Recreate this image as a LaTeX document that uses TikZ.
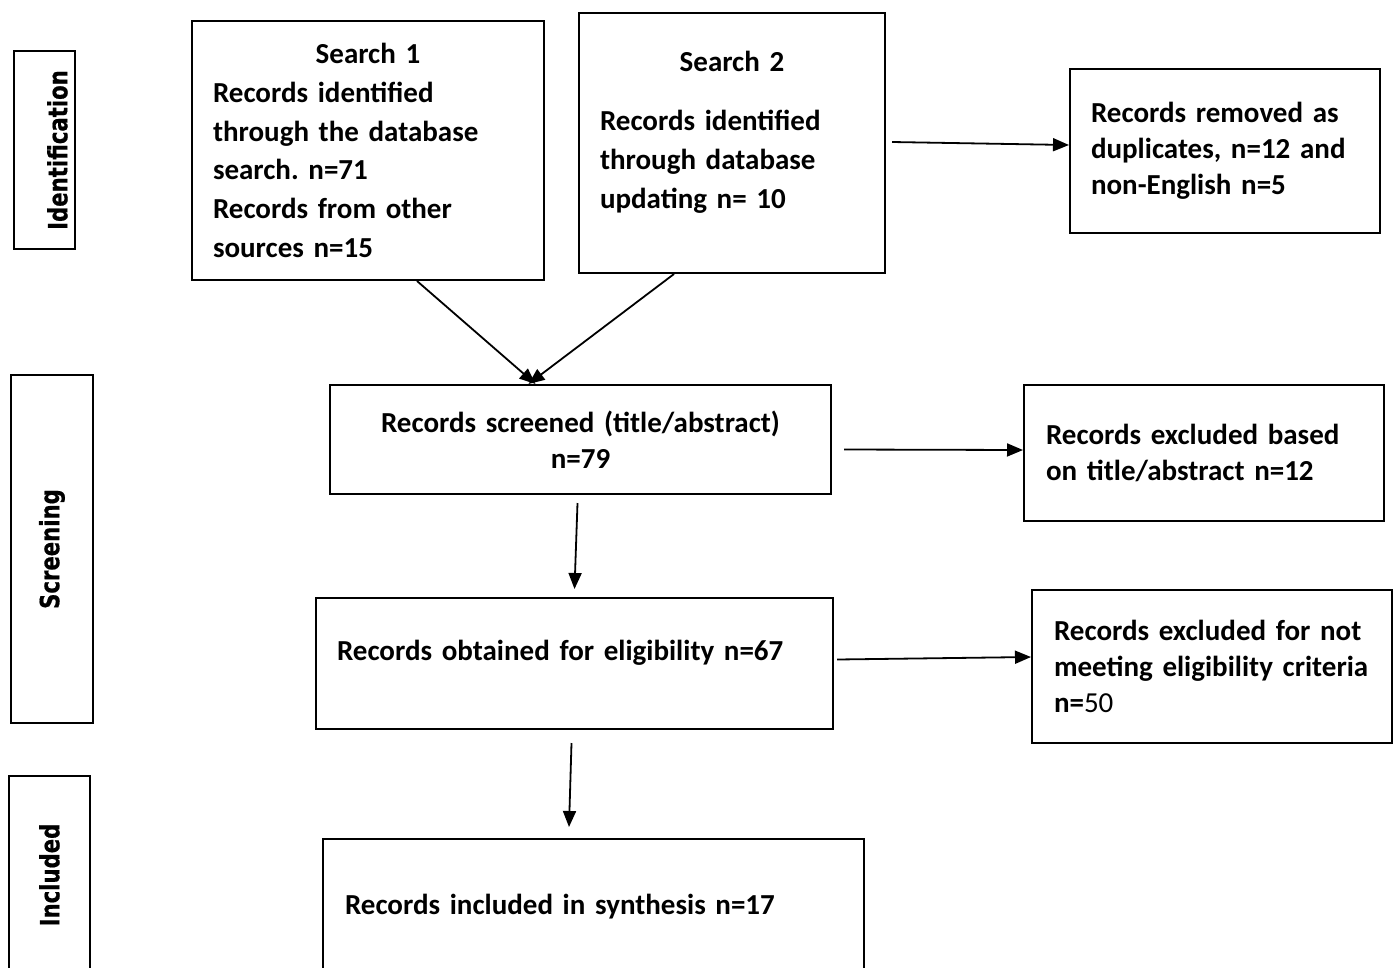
\documentclass[tikz,border=0pt]{standalone}
\usepackage{fontspec}
\setmainfont{Carlito}
\newfontfamily\sidefont[FakeStretch=0.8, BoldFeatures={FakeBold=0.6}]{DejaVu Sans}
\usetikzlibrary{arrows.meta}
\frenchspacing

\begin{document}
\begin{tikzpicture}[x=1pt,y=-1pt,
    box/.style={draw, line width=2pt, align=left, inner xsep=21pt, inner ysep=0pt,
        font=\bfseries\fontsize{29}{36}\selectfont},
    side/.style={draw, line width=2pt, rotate=90, inner sep=0pt,
        font=\sidefont\bfseries\fontsize{26.5}{30}\selectfont},
    arr/.style={line width=1.8pt, -{Triangle[length=16pt,width=13pt]}}]

    \useasboundingbox (0,0) rectangle (1394,967);

    \node[side, minimum width=198pt, minimum height=61pt] (ident) at (44.5,150) {\raisebox{-13pt}[\height][\depth]{Identification}};
    \node[side, minimum width=348pt, minimum height=82pt] (screen) at (52,549) {Screening};
    \node[side, minimum width=198pt, minimum height=81pt] (incl) at (49.5,875) {Included};

    \node[box, text width=310pt, minimum height=259pt, font=\bfseries\fontsize{29}{38.8}\selectfont] (s1) at (368,150.5)
        {\makebox[310pt]{Search 1}\\ Records identified\\ through the database\\ search. n=71\\ Records from other\\ sources n=15};
    \node[box, text width=264pt, minimum height=260pt, text depth=164pt, font=\bfseries\fontsize{29}{38.8}\selectfont] (s2) at (732,143)
        {\makebox[264pt]{Search 2}\\[21pt] Records identified\\ through database\\ updating n= 10};
    \node[box, text width=268pt, minimum height=164pt] (dup) at (1225,151)
        {Records removed as\\ duplicates, n=12 and\\ non-English n=5};

    \node[box, text width=459pt, minimum height=109pt, align=center] (scr) at (580.5,439.5)
        {Records screened (title/abstract)\\ n=79};
    \node[box, inner xsep=22pt, text width=316pt, minimum height=136pt] (ex1) at (1204,453)
        {Records excluded based\\ on title/abstract n=12};

    \node[box, text width=475pt, minimum height=131pt, text depth=27pt] (elig) at (574.5,663.5)
        {Records obtained for eligibility n=67};
    \node[box, inner xsep=22pt, text width=316pt, minimum height=153pt] (ex2) at (1212,666.5)
        {Records excluded for not\\ meeting eligibility criteria\\ n=\textmd{50}};

    \node[box, inner xsep=22pt, text width=497pt, minimum height=136pt] (inc) at (593.5,907)
        {Records included in synthesis n=17};

    \draw[arr] ([xshift=226pt]s1.south west) -- ([xshift=-45pt]scr.north);
    \draw[arr] ([xshift=96pt]s2.south west) -- ([xshift=-52pt]scr.north);
    \draw[arr] ([xshift=6pt,yshift=1pt]s2.east) -- ([yshift=6pt]dup.west);
    \draw[arr] ([xshift=12pt,yshift=-10pt]scr.east) -- ([yshift=3pt]ex1.west);
    \draw[arr] ([xshift=-3pt,yshift=-8pt]scr.south) -- ([yshift=8pt]elig.north);
    \draw[arr] ([xshift=3pt,yshift=4pt]elig.east) -- ([yshift=9.5pt]ex2.west);
    \draw[arr] ([xshift=-3pt,yshift=-13pt]elig.south) -- ([xshift=-24.5pt,yshift=11pt]inc.north);

\end{tikzpicture}
\end{document}
